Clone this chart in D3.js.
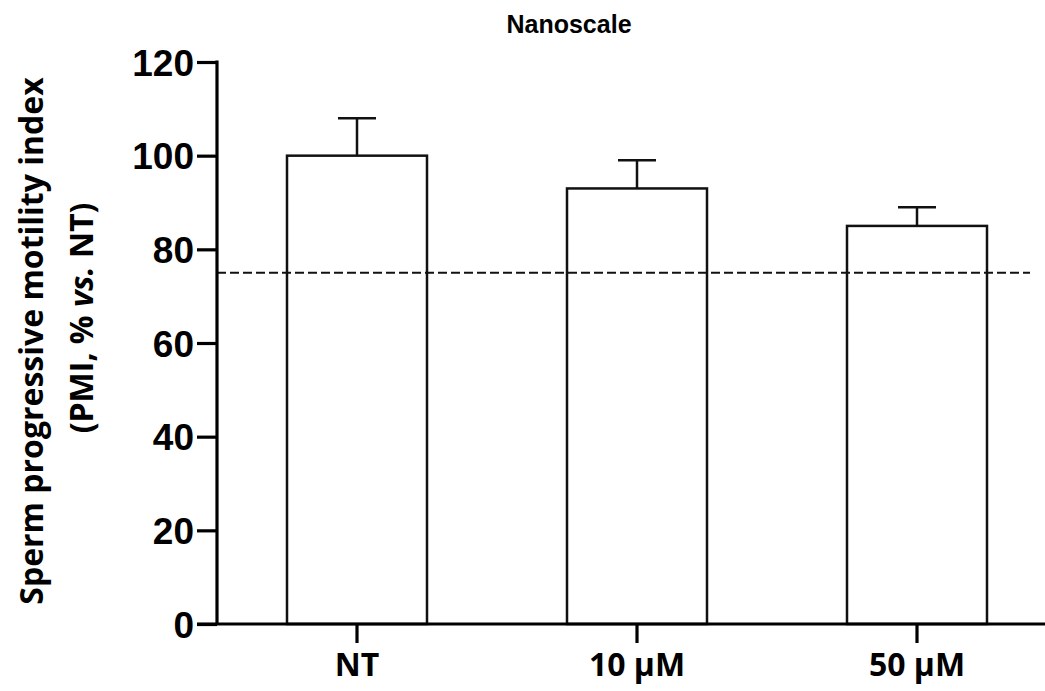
<!DOCTYPE html>
<html lang="en">
<head>
    <meta charset="UTF-8">
    <title>Nanoscale</title>
    <style>
        body { margin: 0; background: #fff; }
        .tick text { fill: #000; }
    </style>
</head>
<script src="https://d3js.org/d3.v7.min.js"></script>
<body>
<svg width="1045" height="691" class="pmi"></svg>

<script>
    // values
    var categories = ["NT", "10 \u00b5M", "50 \u00b5M"];
    var means = [100, 93, 85];
    var sems = [8, 6, 4];
    var yTicks = [0, 20, 40, 60, 80, 100, 120];
    var cutoff = 75;

    var data = categories.map(function (c, i) {
        return {name: c, mean: means[i], sem: sems[i]};
    });

    var svg = d3.select("svg.pmi"),
        axisX = 217,
        plotTop = 62,
        plotBottom = 624;

    var xScale = d3.scaleBand().domain(categories).range([axisX, axisX + 840])
            .paddingInner(0.5).paddingOuter(0.25),
        yScale = d3.scaleLinear().domain([0, 120]).range([plotBottom, plotTop]);

    // title
    svg.append("text")
        .attr("x", 569)
        .attr("y", 33)
        .attr("text-anchor", "middle")
        .attr("font-family", "Liberation Sans, Arial, sans-serif")
        .attr("font-weight", "bold")
        .attr("font-size", "25px")
        .text("Nanoscale");

    // bars
    svg.selectAll(".bar")
        .data(data)
        .enter().append("rect")
        .attr("class", "bar")
        .attr("x", function (d) { return xScale(d.name); })
        .attr("y", function (d) { return yScale(d.mean); })
        .attr("width", xScale.bandwidth())
        .attr("height", function (d) { return plotBottom - yScale(d.mean); })
        .attr("fill", "#fff")
        .attr("stroke", "#111")
        .attr("stroke-width", 2.5);

    // error bars (upper only)
    var err = svg.selectAll(".err")
        .data(data)
        .enter().append("g")
        .attr("class", "err")
        .attr("stroke", "#111")
        .attr("stroke-width", 2.5);
    err.append("line")
        .attr("x1", function (d) { return xScale(d.name) + xScale.bandwidth() / 2; })
        .attr("x2", function (d) { return xScale(d.name) + xScale.bandwidth() / 2; })
        .attr("y1", function (d) { return yScale(d.mean); })
        .attr("y2", function (d) { return yScale(d.mean + d.sem); });
    err.append("line")
        .attr("x1", function (d) { return xScale(d.name) + xScale.bandwidth() / 2 - 19; })
        .attr("x2", function (d) { return xScale(d.name) + xScale.bandwidth() / 2 + 19; })
        .attr("y1", function (d) { return yScale(d.mean + d.sem); })
        .attr("y2", function (d) { return yScale(d.mean + d.sem); });

    // dashed reference line
    svg.append("line")
        .attr("x1", axisX)
        .attr("x2", 1030)
        .attr("y1", yScale(cutoff))
        .attr("y2", yScale(cutoff))
        .attr("stroke", "#111")
        .attr("stroke-width", 2)
        .attr("stroke-dasharray", "9,4");

    // y axis
    var yAxis = svg.append("g")
        .attr("transform", "translate(" + axisX + ",0)")
        .call(d3.axisLeft(yScale).tickValues(yTicks).tickSize(20).tickSizeOuter(0).tickPadding(3));
    yAxis.select(".domain").remove();
    yAxis.selectAll(".tick line").attr("stroke", "#000").attr("stroke-width", 3.2);
    yAxis.selectAll(".tick text")
        .attr("font-family", "Liberation Sans, Arial, sans-serif")
        .attr("font-weight", "bold")
        .attr("font-size", "37px")
        .attr("dy", "0.36em");
    yAxis.append("line")
        .attr("x1", 0).attr("x2", 0)
        .attr("y1", plotTop - 1.6).attr("y2", plotBottom)
        .attr("stroke", "#000")
        .attr("stroke-width", 3.2);

    // x axis
    var xAxis = svg.append("g")
        .attr("transform", "translate(0," + plotBottom + ")")
        .call(d3.axisBottom(xScale).tickSize(19).tickSizeOuter(0).tickPadding(10));
    xAxis.select(".domain").remove();
    xAxis.selectAll(".tick line").attr("stroke", "#000").attr("stroke-width", 3.2);
    xAxis.selectAll(".tick text")
        .attr("font-family", "Open Sans, sans-serif")
        .attr("font-weight", "bold")
        .attr("font-size", "32px");
    xAxis.append("line")
        .attr("x1", axisX - 20).attr("x2", 1045)
        .attr("y1", 0).attr("y2", 0)
        .attr("stroke", "#000")
        .attr("stroke-width", 3.2);

    // y axis title
    var title = svg.append("text")
        .attr("transform", "translate(43,341) rotate(-90)")
        .attr("text-anchor", "middle")
        .attr("font-family", "Open Sans, sans-serif")
        .attr("font-weight", "bold")
        .attr("font-size", "32px");
    title.append("tspan")
        .attr("x", 0)
        .attr("y", 0)
        .text("Sperm progressive motility index");
    var line2 = title.append("tspan")
        .attr("x", 23)
        .attr("y", 0)
        .attr("dy", "1.57em");
    line2.text("(PMI, % ");
    title.append("tspan").attr("font-style", "italic").text("vs.");
    title.append("tspan").text(" NT)");
</script>
</body>
</html>
